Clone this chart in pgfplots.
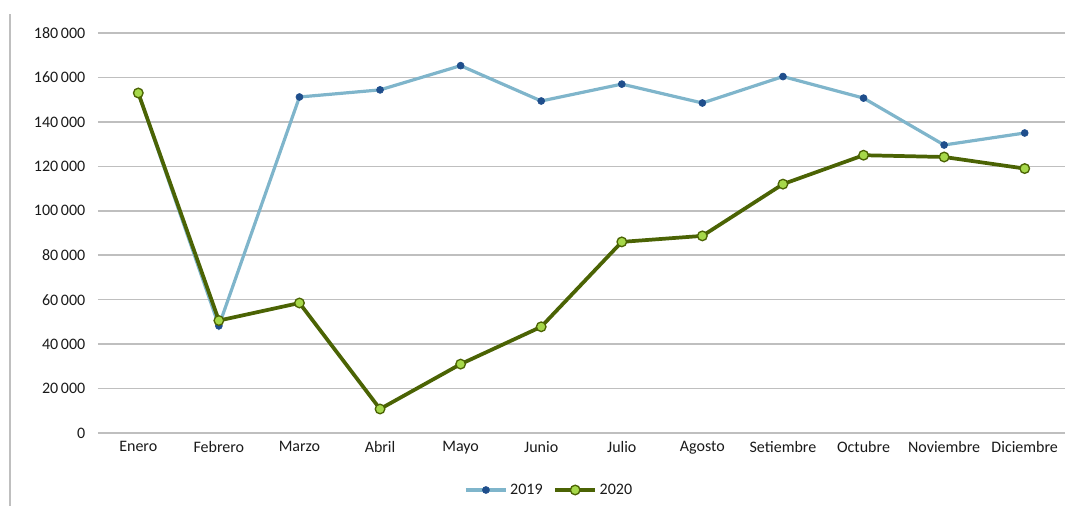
\documentclass[border=0pt]{standalone}
\usepackage{pgfplots}
\pgfplotsset{compat=1.18}
\usepackage{fontspec}
\setmainfont{Carlito}
\definecolor{l19}{HTML}{7FB5CB}
\definecolor{m19}{HTML}{1F4E8C}
\definecolor{l20}{HTML}{4B6304}
\definecolor{m20}{HTML}{A6D84A}
\definecolor{gridc}{HTML}{BFBFBF}
\definecolor{txt}{HTML}{1A1A1A}
\begin{document}
\begin{tikzpicture}
\useasboundingbox (-73.5pt,-54.75pt) rectangle (730.5pt,324.75pt);
\draw[gridc, line width=1.2pt] (-66pt,-54.75pt) -- (-66pt,314pt);
\begin{axis}[
  at={(0,0)}, anchor=south west,
  scale only axis, width=725.25pt, height=300pt,
  xmin=-0.5, xmax=11.5, ymin=0, ymax=180000,
  axis line style={draw=none},
  xtick={0,...,11},
  xticklabels={Enero,Febrero,Marzo,Abril,Mayo,Junio,Julio,Agosto,Setiembre,Octubre,Noviembre,Diciembre},
  ytick={0,20000,...,180000},
  scaled y ticks=false,
  yticklabels={0,20\,000,40\,000,60\,000,80\,000,100\,000,120\,000,140\,000,160\,000,180\,000},
  tick style={draw=none},
  xmajorgrids=false, ymajorgrids=true, major grid style={draw=gridc, line width=1.1pt},
  ticklabel style={font=\fontsize{12}{14}\selectfont, text=txt},
  yticklabel style={xshift=-6pt},
  xticklabel style={yshift=-3pt},
  legend style={at={(0.467,-0.1425)}, anchor=center, draw=none, legend columns=2,
    font=\fontsize{12}{14}\selectfont, text=txt,
    /tikz/every even column/.append style={column sep=6pt}},
  legend image code/.code={\draw[#1] (0pt,0pt) -- (30pt,0pt); \draw[#1, mark repeat=1] plot coordinates {(15pt,0pt)};},
  clip=false,
]
\addplot[l19, line width=2.4pt, mark=*, mark size=2.6pt, mark options={fill=m19, draw=m19, line width=0.5pt}]
coordinates {(0,153000)(1,48200)(2,151200)(3,154400)(4,165300)(5,149400)(6,157000)(7,148500)(8,160400)(9,150700)(10,129600)(11,135000)};
\addlegendentry{2019}
\addplot[l20, line width=2.8pt, mark=*, mark size=3.6pt, mark options={fill=m20, draw=l20, line width=1pt}]
coordinates {(0,153000)(1,50600)(2,58500)(3,10800)(4,31000)(5,47800)(6,86000)(7,88700)(8,112000)(9,125000)(10,124200)(11,119000)};
\addlegendentry{2020}
\end{axis}
\end{tikzpicture}
\end{document}
